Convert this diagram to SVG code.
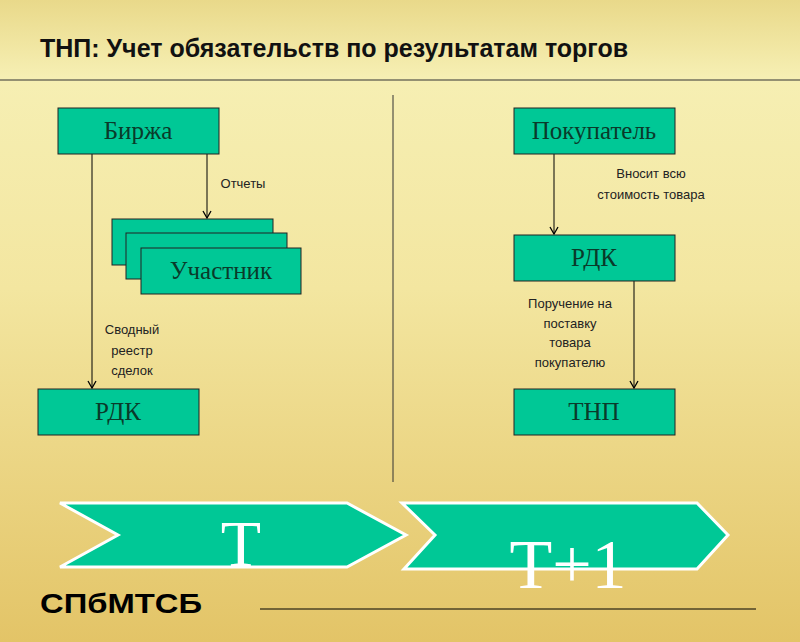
<svg xmlns="http://www.w3.org/2000/svg" width="800" height="642" viewBox="0 0 800 642">
<defs>
<linearGradient id="bg" x1="0" y1="0" x2="0" y2="1">
<stop offset="0" stop-color="#e9d98a"/><stop offset="0.12" stop-color="#f6efb3"/><stop offset="0.45" stop-color="#f3e6a0"/><stop offset="1" stop-color="#e3c467"/>
</linearGradient>
<marker id="a" markerWidth="10" markerHeight="10" refX="9" refY="5" orient="auto" markerUnits="userSpaceOnUse" viewBox="0 0 10 10"><path d="M2,1 L9,5 L2,9" fill="none" stroke="#000" stroke-width="1.3"/></marker>
<style>
.b{fill:#00c896;stroke:#222;stroke-width:1}
.t{font-family:"Liberation Serif",serif;font-size:25px;fill:#0a3a2a;text-anchor:middle}
.s{font-family:"Liberation Sans",sans-serif;font-size:13px;fill:#222;text-anchor:middle}
.c{stroke:#000;stroke-width:1;fill:none}
.v{fill:#00c896;stroke:#fff;stroke-width:3}
</style>
</defs>
<rect width="800" height="642" fill="url(#bg)"/>
<text x="40" y="57" font-family="Liberation Sans,sans-serif" font-weight="bold" font-size="25" fill="#111">ТНП: Учет обязательств по результатам торгов</text>
<line x1="0" y1="80" x2="800" y2="80" stroke="#333" stroke-width="1"/>
<line x1="393" y1="95" x2="393" y2="482" stroke="#333" stroke-width="1"/>
<g id="connectors">
<line class="c" x1="92" y1="154" x2="92" y2="388" marker-end="url(#a)"/>
<line class="c" x1="207" y1="154" x2="207" y2="218" marker-end="url(#a)"/>
<line class="c" x1="554" y1="154" x2="554" y2="234" marker-end="url(#a)"/>
<line class="c" x1="634" y1="281" x2="634" y2="388" marker-end="url(#a)"/>
<text class="s" x="243" y="188">Отчеты</text>
<text class="s" x="132" y="334">Сводный</text>
<text class="s" x="132" y="355">реестр</text>
<text class="s" x="132" y="375">сделок</text>
<text class="s" x="651" y="178">Вносит всю</text>
<text class="s" x="651" y="199">стоимость товара</text>
<text class="s" x="570" y="308">Поручение на</text>
<text class="s" x="570" y="328">поставку</text>
<text class="s" x="570" y="347">товара</text>
<text class="s" x="570" y="367">покупателю</text>
</g>
<g id="birzha"><rect class="b" x="58" y="108" width="161" height="46"/><text class="t" x="138" y="139">Биржа</text></g>
<g id="uchastnik">
<rect class="b" x="112" y="219" width="161" height="46"/>
<rect class="b" x="126" y="233" width="161" height="46"/>
<rect class="b" x="141" y="248" width="160" height="46"/>
<text class="t" x="221" y="279">Участник</text></g>
<g id="rdk-left"><rect class="b" x="38" y="389" width="161" height="46"/><text class="t" x="118" y="420">РДК</text></g>
<g id="pokupatel"><rect class="b" x="514" y="108" width="161" height="46"/><text class="t" x="594" y="139">Покупатель</text></g>
<g id="rdk-right"><rect class="b" x="514" y="235" width="161" height="46"/><text class="t" x="594" y="266">РДК</text></g>
<g id="tnp"><rect class="b" x="514" y="389" width="161" height="46"/><text class="t" x="594" y="420">ТНП</text></g>
<g id="day-t"><polygon class="v" points="60,503 347,503 406,535 347,567 60,567 118,535"/><text x="241" y="566" font-family="Liberation Serif,serif" font-size="66" fill="#fff" text-anchor="middle">T</text></g>
<g id="day-t1"><polygon class="v" points="402,503 697,503 728,535 697,569 404,569 435,535"/><text x="568" y="588" font-family="Liberation Serif,serif" font-size="70" fill="#fff" text-anchor="middle">T+1</text></g>
<text x="40" y="613" font-family="Liberation Sans,sans-serif" font-weight="bold" font-size="27" fill="#000" textLength="162" lengthAdjust="spacingAndGlyphs">СПбМТСБ</text>
<line x1="260" y1="609" x2="756" y2="609" stroke="#000" stroke-width="1"/>
</svg>
